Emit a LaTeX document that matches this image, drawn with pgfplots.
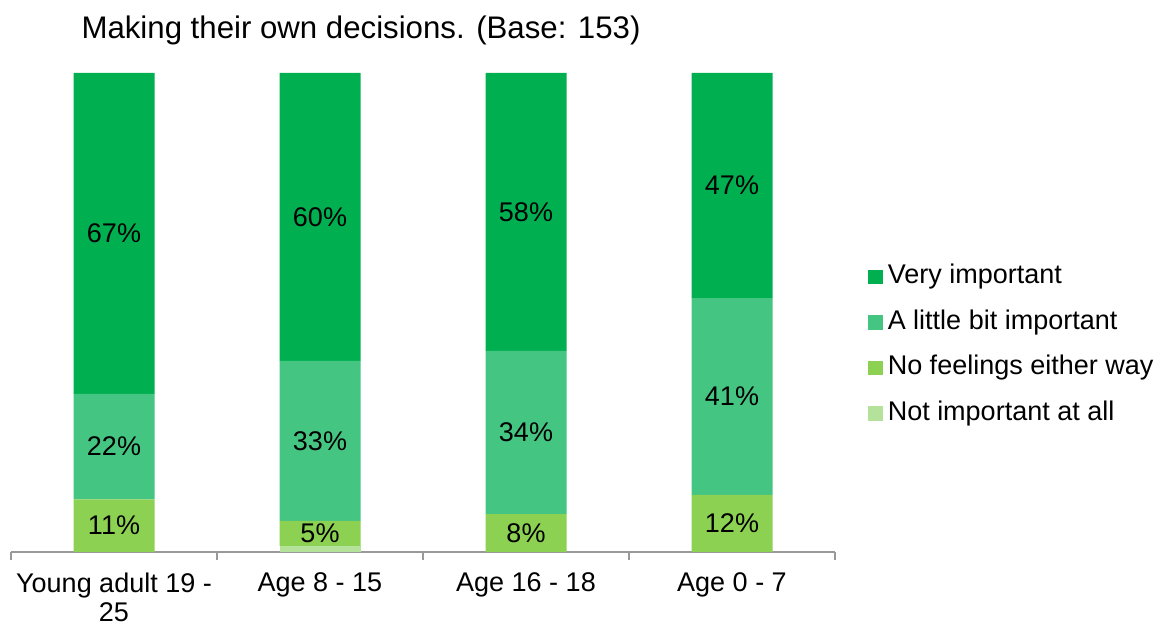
\documentclass[border=0pt]{standalone}
\usepackage{pgfplots}
\pgfplotsset{compat=1.18}
\usepackage{fontspec}
\setmainfont{Liberation Sans}

\definecolor{veryimp}{HTML}{00B050}
\definecolor{littleimp}{HTML}{45C582}
\definecolor{nofeel}{HTML}{8CD152}
\definecolor{notimp}{HTML}{B5E29A}
\newcommand\lbl{\fontsize{13.5}{15}\selectfont}

\pgfplotsset{
  chart frame/.style={
    scale only axis,width=412pt,height=239.5pt,clip=false,
    xmin=-0.5,xmax=3.5,ymin=0,ymax=100,enlargelimits=false,
  },
}

\begin{document}
\begin{tikzpicture}
\begin{axis}[
  chart frame,
  ybar stacked,bar width=40.5pt,
  axis y line=none,axis x line*=bottom,
  x axis line style={draw=black!40,line width=0.9pt},
  xtick={0,1,2,3},
  xticklabels={{Young adult 19 -\\25},{Age 8 - 15},{Age 16 - 18},{Age 0 - 7}},
  minor xtick={-0.5,0.5,1.5,2.5,3.5},
  tick align=outside,major tick length=0pt,minor tick length=4pt,
  minor tick style={draw=black!40,line width=0.9pt},
  x tick label style={font=\fontsize{13.5}{14.5}\selectfont,align=center,yshift=-7pt},
  legend reversed,
  legend style={at={(rel axis cs:1.04,0.432)},anchor=west,draw=none,fill=none,font=\lbl,
    row sep=7.75pt,inner sep=0pt,
    nodes={inner xsep=2.5pt,inner ysep=1pt,text height=10pt,text depth=3pt}},
  legend cell align=left,
  legend image code/.code={\fill[#1] (0pt,-3.6pt) rectangle (7.2pt,3.6pt);},
]
\addplot[fill=notimp,draw=none] coordinates {(0,0) (1,1.3) (2,0) (3,0)};
\addlegendentry{Not important at all}
\addplot[fill=nofeel,draw=none] coordinates {(0,11) (1,5.2) (2,7.9) (3,11.9)};
\addlegendentry{No feelings either way}
\addplot[fill=littleimp,draw=none] coordinates {(0,22) (1,33.4) (2,34.1) (3,41.1)};
\addlegendentry{A little bit important}
\addplot[fill=veryimp,draw=none] coordinates {(0,67) (1,60.1) (2,58) (3,47)};
\addlegendentry{Very important}
\node[font=\fontsize{15.6}{17}\selectfont] at (rel axis cs:0.4248,1.0898) {Making their own decisions. (Base: 153)};
\coordinate (bbl) at (rel axis cs:-0.01335,-0.1524);
\coordinate (btr) at (rel axis cs:1.392,1.1524);
\end{axis}
% value labels, at the middle of each segment
\begin{axis}[chart frame,hide axis]
\addplot[draw=none,mark=none,nodes near coords,point meta=explicit symbolic,
  nodes near coords align=center,
  every node near coord/.append style={anchor=center,font=\lbl,text=black}]
  coordinates {
  (0,5.5)[11\%] (0,22)[22\%] (0,66.5)[67\%]
  (1,3.9)[5\%] (1,23.2)[33\%] (1,69.95)[60\%]
  (2,3.95)[8\%] (2,24.95)[34\%] (2,71)[58\%]
  (3,5.95)[12\%] (3,32.45)[41\%] (3,76.5)[47\%]
  };
\end{axis}
\pgfresetboundingbox
\path[use as bounding box] (bbl) rectangle (btr);
\end{tikzpicture}
\end{document}
